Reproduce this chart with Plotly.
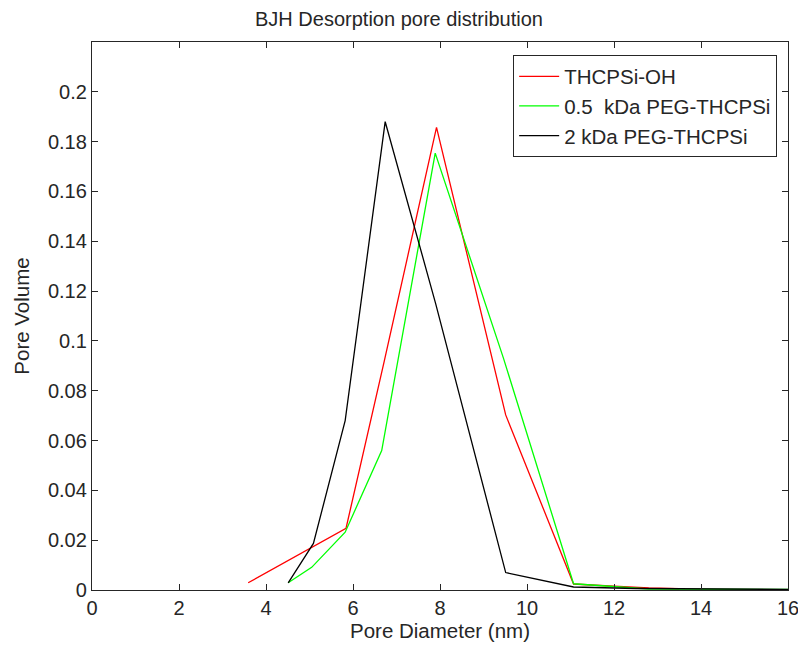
import plotly.graph_objects as go

# Data
x_oh = [3.59, 5.84, 6.72, 7.92, 9.51, 11.07, 12.0, 12.8, 13.5]
y_oh = [0.0029, 0.0248, 0.092, 0.1857, 0.0703, 0.0024, 0.0015, 0.0008, 0.0005]

x_05 = [4.51, 5.05, 5.82, 6.66, 7.89, 9.46, 11.07, 11.96, 12.8, 16.5]
y_05 = [0.0029, 0.0091, 0.0232, 0.056, 0.1754, 0.093, 0.0025, 0.0015, 0.0004, 0.0002]

x_2k = [4.51, 5.09, 5.82, 6.74, 7.9, 9.51, 11.07, 12.5, 16.5]
y_2k = [0.0029, 0.0187, 0.068, 0.188, 0.115, 0.007, 0.0012, 0.0006, 0.0002]

names = ["THCPSi-OH", "0.5  kDa PEG-THCPSi", "2 kDa PEG-THCPSi"]
colors = ["#ff0000", "#00ff00", "#000000"]

x_ticks = list(range(0, 17, 2))
y_ticks = [0, 0.02, 0.04, 0.06, 0.08, 0.1, 0.12, 0.14, 0.16, 0.18, 0.2]
y_tick_text = ["0", "0.02", "0.04", "0.06", "0.08", "0.1", "0.12", "0.14", "0.16", "0.18", "0.2"]

font_family = "Liberation Sans, Arial, sans-serif"
txt = "#262626"

fig = go.Figure()
for xs, ys, nm, c in zip([x_oh, x_05, x_2k], [y_oh, y_05, y_2k], names, colors):
    fig.add_trace(go.Scatter(x=xs, y=ys, mode="lines", name=nm,
                             line=dict(color=c, width=1.3)))

axis_common = dict(showgrid=False, zeroline=False, showline=True, linecolor=txt,
                   linewidth=1.3, mirror="ticks", ticks="inside", ticklen=6,
                   tickcolor=txt, tickwidth=1.3, automargin=False,
                   ticklabeloverflow="allow",
                   tickfont=dict(family=font_family, size=20, color=txt))

fig.update_layout(
    width=798, height=650,
    margin=dict(l=92, r=10, t=42, b=60),
    paper_bgcolor="white", plot_bgcolor="white",
    title=dict(text="BJH Desorption pore distribution", x=0.5, xanchor="center",
               y=1 - 19 / 650, yanchor="middle",
               font=dict(family=font_family, size=20, color=txt)),
    xaxis=dict(range=[0, 16], tickvals=x_ticks,
               title=dict(text="Pore Diameter (nm)", standoff=2,
                          font=dict(family=font_family, size=20.5, color=txt)),
               **axis_common),
    yaxis=dict(range=[0, 0.22], tickvals=y_ticks, ticktext=y_tick_text,
               title=dict(text="Pore Volume", standoff=12,
                          font=dict(family=font_family, size=20.5, color=txt)),
               **axis_common),
    legend=dict(x=0.984, y=0.976, xanchor="right", yanchor="top",
                bordercolor=txt, borderwidth=1.3, bgcolor="white",
                font=dict(family=font_family, size=20.5, color=txt),
                itemwidth=40, tracegroupgap=0),
    showlegend=True,
)

fig.write_html("out.html")
